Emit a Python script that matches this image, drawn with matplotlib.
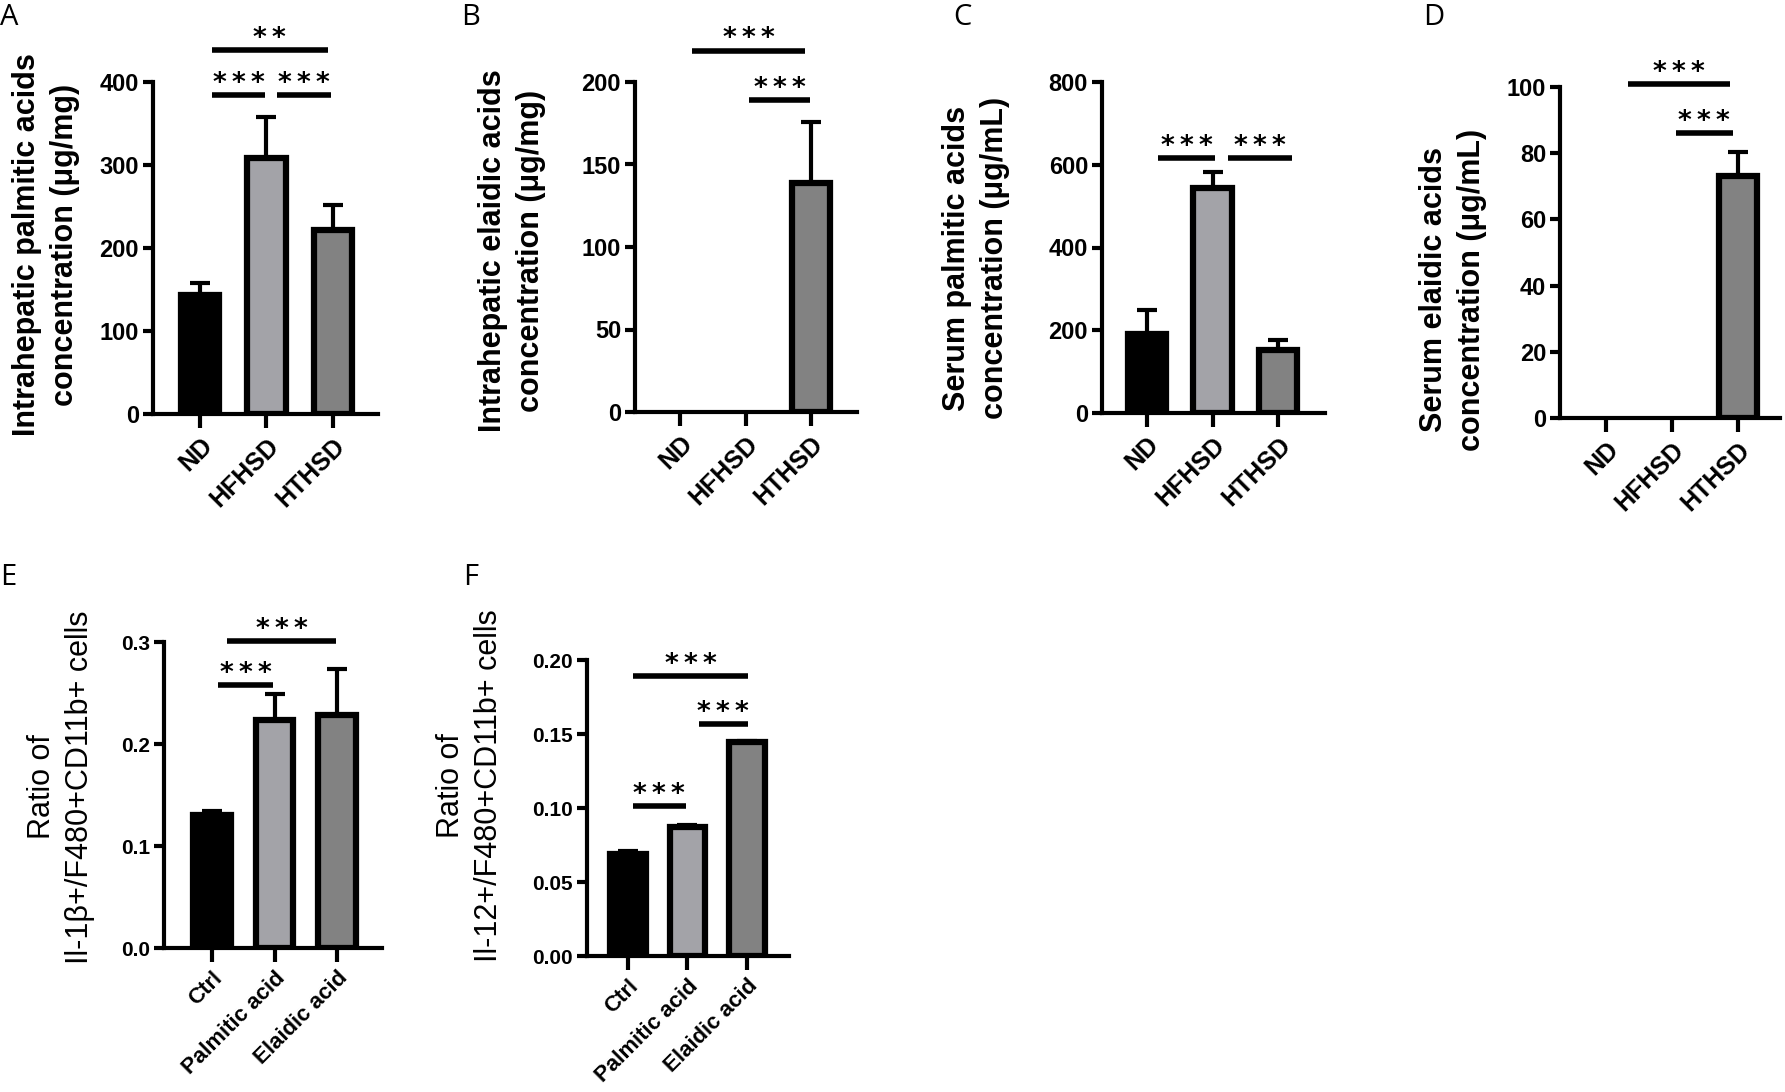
import numpy as np
import matplotlib.pyplot as plt

plt.rcParams['font.family'] = ['Liberation Sans', 'DejaVu Sans']

W, H = 1785, 1092

# groups
diet_groups = ['ND', 'HFHSD', 'HTHSD']
cell_groups = ['Ctrl', 'Palmitic acid', 'Elaidic acid']
bar_colors = ['#000000', '#a3a3a8', '#828282']

S3 = '*\u2009*\u2009*'
S2 = '*\u2009*'

# A: intrahepatic palmitic acids (ug/mg)
liver_palm = [143, 308, 222]
liver_palm_sd = [15, 50, 30]
liver_palm_sig = [(0.18, 0.98, 384, S3), (1.16, 1.97, 384, S3), (0.18, 1.92, 438, S2)]

# B: intrahepatic elaidic acids (ug/mg)
liver_ela = [0, 0, 139]
liver_ela_sd = [0, 0, 37]
liver_ela_sig = [(1.05, 1.98, 189, S3), (0.18, 1.91, 219, S3)]

# C: serum palmitic acids (ug/mL)
serum_palm = [191, 544, 152]
serum_palm_sd = [58, 39, 24]
serum_palm_sig = [(0.17, 1.04, 616, S3), (1.24, 2.21, 616, S3)]

# D: serum elaidic acids (ug/mL)
serum_ela = [0, 0, 73]
serum_ela_sd = [0, 0, 7.5]
serum_ela_sig = [(1.06, 1.92, 86, S3), (0.33, 1.88, 101, S3)]

# E: Il-1b+ ratio
il1b_ratio = [0.130, 0.224, 0.228]
il1b_ratio_sd = [0.004, 0.025, 0.046]
il1b_sig = [(0.10, 0.98, 0.258, S3), (0.24, 1.98, 0.301, S3)]

# F: Il-12+ ratio
il12_ratio = [0.0686, 0.0873, 0.1445]
il12_ratio_sd = [0.0022, 0.0015, 0.0009]
il12_sig = [(0.08, 0.97, 0.1015, S3), (1.19, 2.02, 0.1565, S3), (0.08, 2.02, 0.1894, S3)]

fig = plt.figure(figsize=(W / 100, H / 100), dpi=100)


def fx(x):
    return x / W


def fy(y):
    return 1 - y / H


def make_panel(box, xlim, groups, vals, sd, yticks, ylabels, sigs, ylabel, ylab_xy,
               letter, letter_xy, bold_label=True, small=False):
    x0, x1, ytop, ybot = box
    ax = fig.add_axes([fx(x0), fy(ybot), (x1 - x0) / W, (ybot - ytop) / H])
    x = np.arange(len(groups))
    vals = np.array(vals, dtype=float)
    sd = np.array(sd, dtype=float)
    lw = np.where(vals > 0, 4.5, 0)
    ax.bar(x, vals, width=0.6 if small else 0.58, color=bar_colors,
           edgecolor='black', linewidth=lw, zorder=3)
    m = sd > 0
    ax.errorbar(x[m], vals[m], yerr=[np.zeros(m.sum()), sd[m]], fmt='none',
                ecolor='black', elinewidth=3, capsize=7, capthick=3, zorder=2)
    for a, b, y, s in sigs:
        ax.plot([a, b], [y, y], color='black', lw=4, clip_on=False,
                solid_capstyle='butt')
        ax.annotate(s, ((a + b) / 2, y), xytext=(0, 3), textcoords='offset points',
                    ha='center', va='baseline', fontsize=19, fontweight='bold',
                    family='DejaVu Sans', annotation_clip=False)
    ax.set_xlim(*xlim)
    ax.set_ylim(yticks[0], yticks[-1])
    for s in ['top', 'right']:
        ax.spines[s].set_visible(False)
    for s in ['left', 'bottom']:
        ax.spines[s].set_linewidth(3)
    ax.set_yticks(yticks, ylabels, fontweight='bold', fontsize=15 if small else 17)
    ax.set_xticks(x, groups, rotation=45, ha='right', rotation_mode='anchor',
                  fontweight='bold', fontsize=16 if small else 18)
    ax.tick_params(axis='y', length=7, width=3, pad=3)
    ax.tick_params(axis='x', length=10, width=3, pad=4)
    fig.text(fx(ylab_xy[0]), fy(ylab_xy[1]), ylabel, rotation=90, ha='center',
             va='center', multialignment='center', fontsize=22,
             fontweight='bold' if bold_label else 'normal', linespacing=1.35)
    fig.text(fx(letter_xy[0]), fy(letter_xy[1]), letter, fontsize=21,
             family=['Open Sans', 'DejaVu Sans'], ha='left', va='baseline')
    return ax


make_panel((153, 378, 82, 414), (-0.71, 2.68), diet_groups, liver_palm, liver_palm_sd,
           [0, 100, 200, 300, 400], ['0', '100', '200', '300', '400'], liver_palm_sig,
           'Intrahepatic palmitic acids\nconcentration (\u03bcg/mg)', (46, 245), 'A', (0, 25))
make_panel((635, 857, 82, 412), (-0.69, 2.70), diet_groups, liver_ela, liver_ela_sd,
           [0, 50, 100, 150, 200], ['0', '50', '100', '150', '200'], liver_ela_sig,
           'Intrahepatic elaidic acids\nconcentration (\u03bcg/mg)', (512, 251), 'B', (461, 25))
make_panel((1102, 1325, 82, 413), (-0.68, 2.71), diet_groups, serum_palm, serum_palm_sd,
           [0, 200, 400, 600, 800], ['0', '200', '400', '600', '800'], serum_palm_sig,
           'Serum palmitic acids\nconcentration (\u03bcg/mL)', (976, 258), 'C', (953, 25))
make_panel((1560, 1780, 87, 418), (-0.70, 2.64), diet_groups, serum_ela, serum_ela_sd,
           [0, 20, 40, 60, 80, 100], ['0', '20', '40', '60', '80', '100'], serum_ela_sig,
           'Serum elaidic acids\nconcentration (\u03bcg/mL)', (1453, 290), 'D', (1423, 25))
make_panel((164, 382, 642, 948), (-0.77, 2.72), cell_groups, il1b_ratio, il1b_ratio_sd,
           [0, 0.1, 0.2, 0.3], ['0.0', '0.1', '0.2', '0.3'], il1b_sig,
           'Ratio of\nIl-1\u03b2+/F480+CD11b+ cells', (61, 787), 'E', (0, 585),
           bold_label=False, small=True)
make_panel((587, 789, 660, 956), (-0.69, 2.71), cell_groups, il12_ratio, il12_ratio_sd,
           [0, 0.05, 0.10, 0.15, 0.20], ['0.00', '0.05', '0.10', '0.15', '0.20'], il12_sig,
           'Ratio of\nIl-12+/F480+CD11b+ cells', (470, 786), 'F', (463, 585),
           bold_label=False, small=True)

fig.savefig('out.png', dpi=100, facecolor='white')
